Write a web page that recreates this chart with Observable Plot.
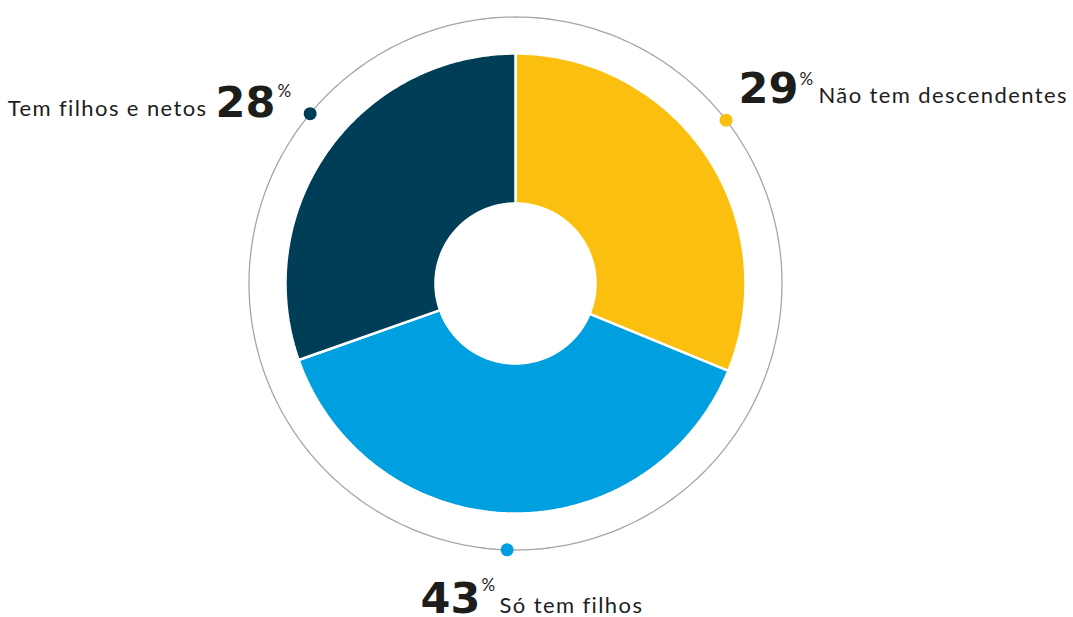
<!DOCTYPE html>
<html><head><meta charset="utf-8">
<script src="https://cdn.jsdelivr.net/npm/d3@7"></script>
<script src="https://cdn.jsdelivr.net/npm/@observablehq/plot@0.6"></script>
<style>
html,body{margin:0;padding:0;background:#fff;}
#chart svg{display:block}
</style>
</head><body><div id="chart"></div>
<script>
// ---- data ----
const categories = ["Não tem descendentes", "Só tem filhos", "Tem filhos e netos"];
const percentLabels = [29, 43, 28];
// slice sizes as they are actually drawn in the reference (%)
const drawnShares = [31.2, 38.4, 30.4];
const colors = ["#FBC00F", "#009FDF", "#003D57"];

// ---- layout ----
const W = 1073, H = 617;
const CX = 515, CY = 283;          // pie centre in pixels
const R_OUT = 230, R_IN = 80, R_RING = 266.5;
const textColor = "#1d1d1b";

const rows = categories.map((c, i) => ({cat: c, pct: percentLabels[i], share: drawnShares[i], color: colors[i]}));
const sliceArcs = d3.pie().sort(null).value(d => d.share)(rows);
const dotArcs = d3.pie().sort(null).value(d => d.pct)(rows);

const pt = (r, a) => ({x: r * Math.sin(a), y: r * Math.cos(a)});

// slice outlines (outer arc, then inner arc back)
const slicePts = [];
for (const a of sliceArcs) {
  const n = 160;
  for (let k = 0; k <= n; k++) slicePts.push({cat: a.data.cat, ...pt(R_OUT, a.startAngle + (a.endAngle - a.startAngle) * k / n)});
  for (let k = n; k >= 0; k--) slicePts.push({cat: a.data.cat, ...pt(R_IN, a.startAngle + (a.endAngle - a.startAngle) * k / n)});
}
const ringPts = d3.range(0, 360).map(d => pt(R_RING, d * Math.PI / 180));
const dots = dotArcs.map(a => ({cat: a.data.cat, pct: a.data.pct, ...pt(R_RING, (a.startAngle + a.endAngle) / 2)}));

// label part offsets (pixels) from each dot
const labelOffsets = {
  "Não tem descendentes": {num: [12.4, -16.7, "start"], pct: [73.4, -34.7, "start"], name: [92.4, -16.7, "start"]},
  "Só tem filhos":        {num: [-86.6, 63.6, "start"], pct: [-25.6, 41.6, "start"], name: [-7.6, 63.6, "start"]},
  "Tem filhos e netos":   {num: [-94.6, 2.9, "start"], pct: [-32.6, -17.1, "start"], name: [-102.6, 1.9, "end"]}
};
const partStyle = {
  num: {fontSize: 43, fontWeight: 700, family: "'DejaVu Sans', sans-serif", text: d => String(d.pct)},
  pct: {fontSize: 17, fontWeight: 400, family: "Lato, sans-serif", text: d => "%"},
  name: {fontSize: 22, fontWeight: 400, family: "Lato, sans-serif", text: d => d.cat}
};
const textMarks = [];
for (const d of dots) {
  for (const part of ["num", "pct", "name"]) {
    const [dx, dy, anchor] = labelOffsets[d.cat][part];
    const s = partStyle[part];
    textMarks.push(Plot.text([d], {
      x: "x", y: "y", text: s.text, dx, dy, textAnchor: anchor, lineAnchor: "bottom",
      fontSize: s.fontSize, fontWeight: s.fontWeight, fill: textColor,
      fontFamily: s.family
    }));
  }
}

const chart = Plot.plot({
  width: W, height: H,
  margin: 0,
  x: {domain: [-CX, W - CX], range: [0, W], axis: null},
  y: {domain: [-(H - CY), CY], range: [H, 0], axis: null},
  color: {domain: categories, range: colors},
  marks: [
    Plot.line(ringPts, {x: "x", y: "y", curve: "linear-closed", stroke: "#a6a6a6", strokeWidth: 1.3}),
    Plot.line(slicePts, {x: "x", y: "y", z: "cat", fill: "cat", curve: "linear-closed", stroke: "#fff", strokeWidth: 2.5, strokeLinejoin: "miter"}),
    Plot.dot(dots, {x: "x", y: "y", r: 6.5, fill: "cat", stroke: null}),
    ...textMarks
  ]
});
// widen the category names to match the reference's wide geometric face
d3.select(chart).selectAll("text")
  .filter(function () { return categories.includes(this.textContent); })
  .style("letter-spacing", "1.4px");
document.getElementById("chart").append(chart);
</script>
</body></html>
